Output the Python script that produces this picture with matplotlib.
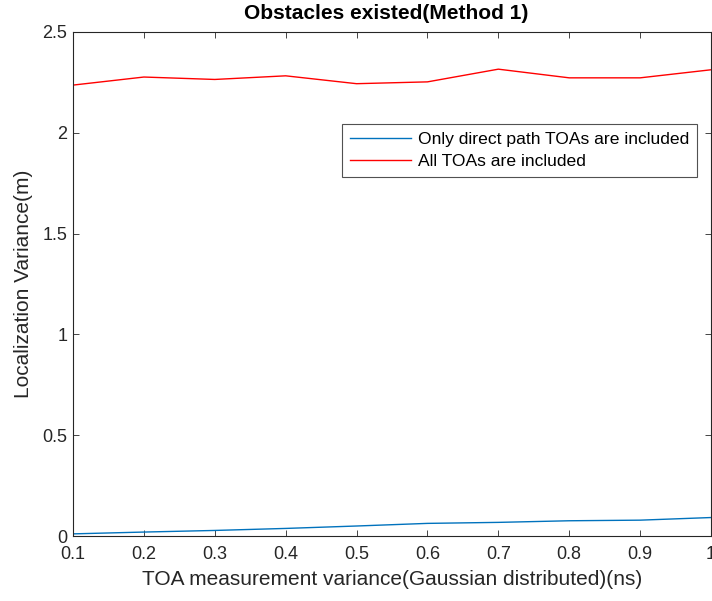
import numpy as np
import matplotlib.pyplot as plt

plt.rcParams['font.family'] = ['Liberation Sans', 'DejaVu Sans']

x = [0.1, 0.2, 0.3, 0.4, 0.5, 0.6, 0.7, 0.8, 0.9, 1.0]
direct_only = [0.011, 0.020, 0.028, 0.038, 0.050, 0.063, 0.068, 0.076, 0.079, 0.092]
all_toas = [2.236, 2.276, 2.264, 2.282, 2.243, 2.252, 2.315, 2.272, 2.272, 2.312]

AX_COLOR = "#262626"

fig = plt.figure(figsize=(7.12, 6.01), dpi=100, facecolor='white')
ax = fig.add_axes([0.1025, 0.108, 0.8961, 0.839])

ax.plot(x, direct_only, color="#0072bd", lw=1.0, label="Only direct path TOAs are included")
ax.plot(x, all_toas, color="#ff0000", lw=1.0, label="All TOAs are included")

ax.set_xlim(0.1, 1.0)
ax.set_ylim(0, 2.5)
ax.set_xticks(x)
ax.set_xticklabels(["0.1", "0.2", "0.3", "0.4", "0.5", "0.6", "0.7", "0.8", "0.9", "1"])
ax.set_yticks([0, 0.5, 1, 1.5, 2, 2.5])
ax.set_yticklabels(["0", "0.5", "1", "1.5", "2", "2.5"])
ax.tick_params(direction='in', top=True, right=True, length=4.5, width=0.6,
               colors=AX_COLOR, labelsize=13, labelcolor=AX_COLOR)
ax.tick_params(axis='x', pad=7)
ax.tick_params(axis='y', pad=4)
for s in ax.spines.values():
    s.set_color(AX_COLOR)
    s.set_linewidth(0.8)

ax.set_xlabel("TOA measurement variance(Gaussian distributed)(ns)", fontsize=15,
              color=AX_COLOR, labelpad=5)
ax.set_ylabel("Localization Variance(m)", fontsize=15, color=AX_COLOR, labelpad=7)
ax.set_title("Obstacles existed(Method 1)", fontsize=15, fontweight='bold',
             color='black', pad=9, x=0.491)

leg = ax.legend(loc='upper right', bbox_to_anchor=(0.978, 0.818), fontsize=12.6,
                frameon=True, fancybox=False, borderaxespad=0, handlelength=3.5,
                handletextpad=0.4, labelspacing=0.4, borderpad=0.45)
leg.get_frame().set_edgecolor(AX_COLOR)
leg.get_frame().set_linewidth(0.8)

plt.savefig("out.png", dpi=100, facecolor='white')
